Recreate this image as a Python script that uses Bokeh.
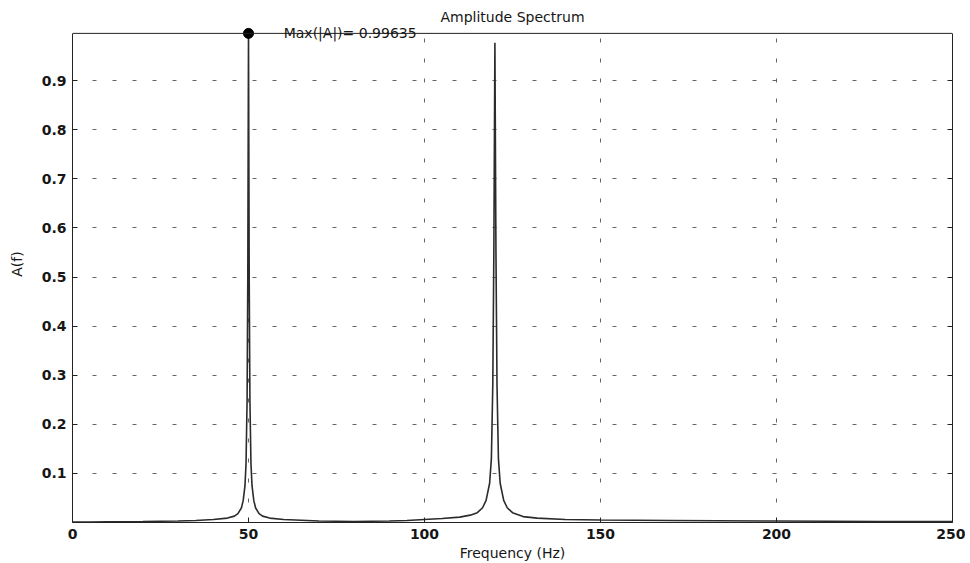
from bokeh.plotting import figure
from bokeh.models import Range1d, FixedTicker, Label, LinearAxis, Span
from bokeh.embed import file_html
from bokeh.resources import INLINE

# Frequency samples (Hz) and amplitude |A(f)|
freq = [0, 5, 10, 20, 30, 35, 40, 44, 46, 47, 48, 48.5, 49, 49.3, 49.6, 49.8, 50,
        50.2, 50.4, 50.7, 51, 51.5, 52, 53, 54, 56, 60, 70, 80, 90, 95, 100, 105,
        110, 113, 115, 116.5, 117.5, 118.5, 119, 119.4, 119.7, 120, 120.3, 120.6,
        121, 121.5, 122.5, 123.5, 125, 128, 132, 140, 150, 170, 200, 230, 250]
amp = [0.001, 0.001, 0.0015, 0.002, 0.003, 0.004, 0.006, 0.009, 0.013, 0.018, 0.03,
       0.045, 0.075, 0.12, 0.25, 0.5, 0.99635,
       0.5, 0.25, 0.12, 0.075, 0.045, 0.03, 0.018, 0.013, 0.009, 0.006, 0.003,
       0.002, 0.003, 0.004, 0.006, 0.008,
       0.011, 0.015, 0.02, 0.03, 0.045, 0.08, 0.13, 0.28, 0.55, 0.977, 0.55, 0.28,
       0.13, 0.08, 0.045, 0.03, 0.02, 0.012, 0.009, 0.006, 0.005, 0.004, 0.003,
       0.002, 0.002]

x_ticks = [0, 50, 100, 150, 200, 250]
y_ticks = [0.1, 0.2, 0.3, 0.4, 0.5, 0.6, 0.7, 0.8, 0.9]

a_max = max(amp)
f_max = freq[amp.index(a_max)]
x0, x1 = 0, 250
y_end = a_max * 1.057          # head-room above the axes box for title / max label

FONT = "DejaVu Sans"
INK = "#161616"

p = figure(width=965, height=563, output_backend="svg", toolbar_location=None,
           x_range=Range1d(x0, x1), y_range=Range1d(0, y_end),
           min_border_left=72, min_border_right=13, min_border_top=5,
           min_border_bottom=38)

p.background_fill_color = "white"
p.border_fill_color = "white"
p.outline_line_color = None

right_axis = LinearAxis()
p.add_layout(right_axis, "right")

for ax in (p.xaxis[0], p.yaxis[0], right_axis):
    ax.axis_line_color = "#222222"
    ax.major_tick_in = 5
    ax.major_tick_out = 0
    ax.minor_tick_line_color = None
    ax.major_tick_line_color = "#222222"
    ax.major_label_text_font = FONT
    ax.major_label_text_font_size = "14px"
    ax.major_label_text_font_style = "bold"
    ax.major_label_text_color = INK
    ax.axis_label_text_font = FONT
    ax.axis_label_text_font_size = "14px"
    ax.axis_label_text_font_style = "normal"
    ax.axis_label_text_color = INK

p.xaxis.ticker = FixedTicker(ticks=x_ticks)
p.yaxis[0].ticker = FixedTicker(ticks=y_ticks)
right_axis.ticker = FixedTicker(ticks=y_ticks)
right_axis.major_label_text_color = None
right_axis.major_label_text_font_size = "1px"
p.yaxis[0].bounds = (0, a_max)
right_axis.bounds = (0, a_max)

p.xaxis.axis_label = "Frequency (Hz)"
p.yaxis[0].axis_label = "A(f)"
p.xaxis.major_label_standoff = 6
p.xaxis.axis_label_standoff = 3
p.yaxis[0].major_label_standoff = 6
p.yaxis[0].axis_label_standoff = 14

for g in (p.xgrid, p.ygrid):
    g.grid_line_color = "#4a4a4a"
    g.grid_line_dash = "4 16"
    g.grid_line_width = 1
    g.grid_line_alpha = 0.85

# blank band above the axes box (hides the grid in the head-room)
p.quad(left=[x0], right=[x1], bottom=[a_max], top=[y_end],
       fill_color="white", line_color=None)

# top border of the axes box
p.add_layout(Span(location=a_max, dimension="width", line_color="#222222",
                  line_width=1))

p.line(freq, amp, line_color="#2b2b2b", line_width=1.6)
p.scatter([f_max], [a_max], size=10, marker="circle", fill_color="black",
          line_color="black")

p.add_layout(Label(x=f_max + 10, y=a_max, text="Max(|A|)= " + str(a_max),
                   text_font=FONT, text_font_size="14px",
                   text_baseline="middle", text_color=INK))

p.add_layout(Label(x=(x0 + x1) / 2, y=a_max * 1.034, text="Amplitude Spectrum",
                   text_font=FONT, text_font_size="14px", text_align="center",
                   text_baseline="middle", text_color=INK))

open("out.html", "w").write(file_html(p, INLINE))
